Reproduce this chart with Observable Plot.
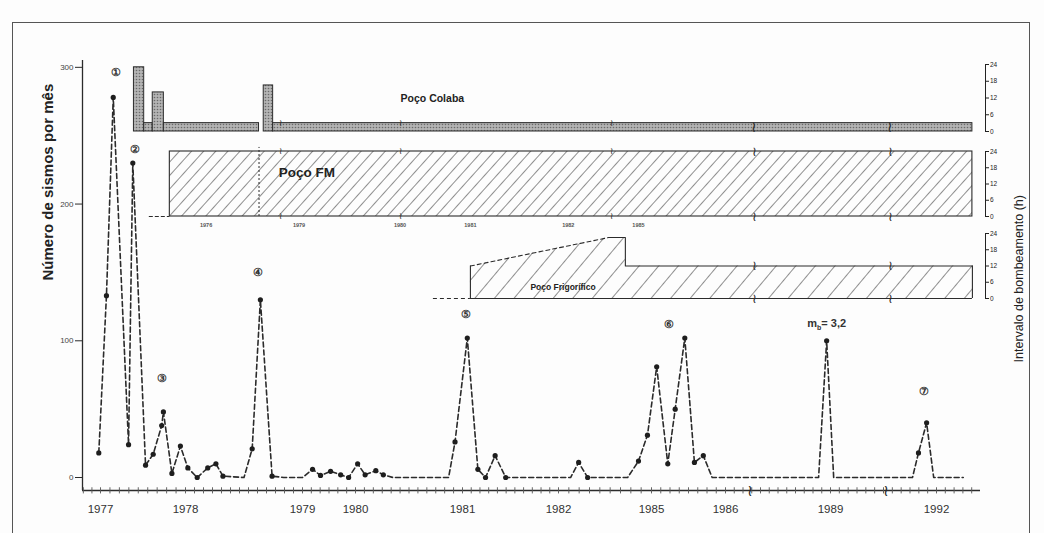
<!DOCTYPE html>
<html><head><meta charset="utf-8">
<script src="https://cdn.jsdelivr.net/npm/d3@7"></script>
<script src="https://cdn.jsdelivr.net/npm/@observablehq/plot@0.6"></script>
<style>
body{margin:0;background:#fff;}
#wrap{position:relative;width:1044px;height:533px;overflow:hidden;background:#fdfdfd;font-family:"Liberation Sans",Arial,sans-serif;}
#wrap svg{position:absolute;left:0;top:0;}
#frame{position:absolute;left:12px;top:22px;width:1016px;height:530px;border:1.5px solid #555;pointer-events:none;}
</style></head>
<body>
<svg width="0" height="0" style="position:absolute">
  <defs>
    <pattern id="hatchFM" patternUnits="userSpaceOnUse" width="9" height="9" patternTransform="rotate(42)">
      <line x1="0" y1="0" x2="0" y2="9" stroke="#333" stroke-width="1.1"/>
    </pattern>
    <pattern id="hatchWide" patternUnits="userSpaceOnUse" width="15" height="15" patternTransform="rotate(40)">
      <line x1="0" y1="0" x2="0" y2="15" stroke="#333" stroke-width="1.1"/>
    </pattern>
    <pattern id="stipple" patternUnits="userSpaceOnUse" width="3" height="3">
      <rect width="3" height="3" fill="#b4b4b4"/>
      <circle cx="1.5" cy="1.5" r="0.8" fill="#6a6a6a"/>
    </pattern>
  </defs>
</svg>
<div id="wrap"><div id="frame"></div></div>
<script>
// ---- main series: earthquakes per month ----
const months = [1976.98,1977.07,1977.15,1977.33,1977.38,1977.53,1977.62,1977.72,1977.74,1977.84,
  1977.94,1978.02,1978.10,1978.19,1978.26,1978.32,1978.50,1978.57,1978.64,1978.74,
  1978.84,1979.00,1979.19,1979.34,1979.53,1979.72,1979.87,1980.02,1980.09,1980.19,
  1980.26,1980.35,1980.87,1980.93,1981.05,1981.16,1981.24,1981.34,1981.45,1982.39,
  1982.65,1982.94,1984.23,1984.58,1984.87,1985.07,1985.22,1985.32,1985.45,1985.58,
  1985.70,1985.82,1988.66,1988.89,1989.09,1991.32,1991.49,1991.72,1991.92,1992.76];
const counts = [18,133,278,24,230,9,17,38,48,3,
  23,7,0,7,10,1,0,21,130,1,
  0,0,6,1.5,4.5,2,0,10,2,5,
  2,0,0,26,102,6,0,16,0,0,
  11,0,0,12,31,81,10,50,102,11,
  16,0,0,100,0,0,18,40,0,0];
const marked = [1,1,1,1,1,1,1,1,1,1,
  1,1,1,1,1,1,0,1,1,1,
  0,0,1,1,1,1,1,1,1,1,
  1,0,0,1,1,1,1,1,1,0,
  1,1,0,1,1,1,1,1,1,1,
  1,0,0,1,0,0,1,1,0,0];

const yearTicks = [1977,1978,1979,1980,1981,1982,1985,1986,1989,1992];
const countTicks = [0,100,200,300];

const peakText = ["①","②","③","④","⑤","⑥","mb= 3,2","⑦"];
const peakX = [1977.18,1977.41,1977.72,1978.62,1981.04,1985.23,1988.89,1991.66];
const peakY = [296,240,72.5,150,119,112,113,63];

// ---- pumping intervals (hours) ----
const colabaX1 = [1977.39,1977.51,1977.61,1977.74,1978.66,1978.74];
const colabaX2 = [1977.51,1977.61,1977.74,1978.62,1978.74,1992.88];
const colabaH  = [23,3,14,3,16.5,3];
const fmX1 = [1977.81], fmX2 = [1992.88], fmH = [24];
const frigX = [1981.06,1983.52,1984.06,1984.06,1992.88];
const frigH = [12,22.5,22.5,12,12];
const hourTicks = [0,6,12,18,24];
const fmLabelX = [1978.17,1978.96,1980.40,1981.06,1982.23,1984.48];
const fmLabelText = ["1976","1979","1980","1981","1982","1985"];
const breaks = [1986.71,1990.56];
const smallBreaks = [1978.80,1980.40,1983.61];

// ---- broken (piecewise) time axis: years -> position along the drawn axis ----
const axisYears = [1976.79,1977,1978,1979,1980,1981,1982,1985,1986,1989,1992,1993.25];
const axisUnits = [0,18,103,220,273,380,476,569,643,748,854,898];
const brokenTime = d3.scaleLinear().domain(axisYears).range(axisUnits);

const W = 1044, H = 533;
const FONT = "Liberation Sans, Arial, sans-serif";
const INK = "#2b2b2b";

const minorTicks = [];
for (let i = 0; i < axisYears.length - 1; i++) {
  const a = axisYears[i], b = axisYears[i+1];
  const upy = (axisUnits[i+1] - axisUnits[i]) / (b - a);
  const per = Math.max(1, Math.round(upy / 9));
  for (let k = Math.ceil(a * per); k / per < b - 1e-9; k++) minorTicks.push(k / per);
}

const data = months.map((m, i) => ({m, c: counts[i], dot: marked[i]}));
const peaks = peakText.map((t, i) => ({t, x: peakX[i], y: peakY[i]}));
const xOpt = () => ({transform: brokenTime, domain: [axisUnits[0], axisUnits[axisUnits.length - 1]], axis: null});

const wrap = document.getElementById("wrap");
const frame = document.getElementById("frame");

const main = Plot.plot({
  width: W, height: H,
  marginLeft: 82, marginRight: 64, marginTop: 60, marginBottom: 43,
  style: {background: "transparent", fontFamily: FONT, color: INK, overflow: "visible"},
  x: xOpt(),
  y: {domain: [-9.5, 305]},
  marks: [
    Plot.ruleX([axisYears[0]], {stroke: INK, strokeWidth: 1.3}),
    Plot.ruleY([-9.5], {stroke: INK, strokeWidth: 1.3}),
    Plot.ruleX(minorTicks, {y1: -12, y2: -7.5, stroke: "#555", strokeWidth: 0.9}),
    Plot.axisY({ticks: countTicks, tickSize: 7, tickPadding: 2, fontSize: 8, label: null, fill: "#444"}),
    Plot.text(yearTicks, {x: d => d, y: -9.5, dy: 19, text: d => String(d), fontSize: 11.5, fill: "#333"}),
    Plot.line(data, {x: "m", y: "c", stroke: INK, strokeWidth: 1.6, strokeDasharray: "5,3"}),
    Plot.dot(data.filter(d => d.dot), {x: "m", y: "c", r: 2.6, fill: "#1e1e1e", stroke: "none"}),
    Plot.text(peaks, {x: "x", y: "y", text: "t", fontSize: 11, fontWeight: "bold", fill: "#333"}),
    Plot.text(breaks, {x: d => d, y: -9.5, text: () => "≀", fontSize: 16, fill: INK}),
    Plot.text(["Número de sismos por mês"], {frameAnchor: "left", dx: -34, dy: 5, rotate: -90, fontSize: 15, fontWeight: "bold", fill: "#222"})
  ]
});
main.querySelectorAll("text").forEach(t => {
  if (t.textContent === "mb= 3,2") t.innerHTML = 'm<tspan dy="3" font-size="7">b</tspan><tspan dy="-3">= 3,2</tspan>';
});
wrap.insertBefore(main, frame);

function inset(top, bottom, marks) {
  return Plot.plot({
    width: W, height: H,
    marginLeft: 82, marginRight: 59, marginTop: top, marginBottom: H - bottom,
    style: {background: "transparent", fontFamily: FONT, color: "#222", fontSize: "6.5px", overflow: "visible"},
    x: xOpt(),
    y: {domain: [0, 24], axis: "right", ticks: hourTicks, tickSize: 3, tickPadding: 1.5, line: true, label: null},
    marks
  });
}
const brk = (ys, xs, fs) => Plot.text(xs.flatMap(x => ys.map(y => ({x, y}))), {x: "x", y: "y", text: () => "≀", fontSize: fs, fill: INK});

const colabaIdx = colabaH.map((_, i) => i);
const colaba = inset(64, 131, [
  Plot.rect(colabaIdx, {x1: i => colabaX1[i], x2: i => colabaX2[i], y1: 0, y2: i => colabaH[i], fill: "url(#stipple)", stroke: INK, strokeWidth: 1}),
  brk([1.5], breaks, 15),
  brk([3], smallBreaks, 9),
  Plot.text(["Poço Colaba"], {x: 1980.70, y: 11.8, fontSize: 10.5, fontWeight: "bold", fill: "#222"})
]);

const fm = inset(151, 216, [
  Plot.rect([0], {x1: () => fmX1[0], x2: () => fmX2[0], y1: 0, y2: () => fmH[0], fill: "url(#hatchFM)", stroke: INK, strokeWidth: 1.1}),
  Plot.ruleY([0], {x1: 1977.57, x2: fmX1[0], stroke: INK, strokeDasharray: "4,2"}),
  Plot.ruleX([1978.62], {y1: 0, y2: 25.5, stroke: INK, strokeDasharray: "2,2"}),
  brk([0, 24], breaks, 13),
  brk([0, 24], smallBreaks, 9),
  Plot.text(fmLabelText, {x: (d, i) => fmLabelX[i], y: -3.2, fontSize: 5.5, fontWeight: "bold", fill: "#555"}),
  Plot.text(["Poço FM"], {x: 1979.06, y: 16.2, fontSize: 13.5, fontWeight: "bold", fill: "#222"}),
  Plot.text(["Intervalo de bombeamento (h)"], {frameAnchor: "right", dx: 33, dy: 11, rotate: -90, fontSize: 12.5, fill: "#222"})
]);

const frigIdx = frigH.map((_, i) => i);
const frig = inset(233, 298, [
  Plot.area(frigIdx, {x1: i => frigX[i], y1: 0, y2: i => frigH[i], fill: "url(#hatchWide)"}),
  Plot.line(frigIdx.slice(1), {x: i => frigX[i], y: i => frigH[i], stroke: INK, strokeWidth: 1.1}),
  Plot.line([0, 1], {x: i => frigX[i], y: i => frigH[i], stroke: INK, strokeWidth: 1.1, strokeDasharray: "4,3"}),
  Plot.ruleX([frigX[0], frigX[frigX.length - 1]], {y1: 0, y2: 12, stroke: INK, strokeWidth: 1.1}),
  Plot.ruleY([0], {x1: frigX[0], x2: frigX[frigX.length - 1], stroke: INK, strokeWidth: 1.1}),
  Plot.ruleY([0], {x1: 1980.71, x2: frigX[0], stroke: INK, strokeDasharray: "4,3"}),
  brk([0, 12], breaks, 13),
  Plot.text(["Poço Frigorífico"], {x: 1982.06, y: 4, fontSize: 8.5, fontWeight: "bold", fill: "#222"})
]);

[colaba, fm, frig].forEach(s => wrap.insertBefore(s, frame));
</script>
</body></html>
